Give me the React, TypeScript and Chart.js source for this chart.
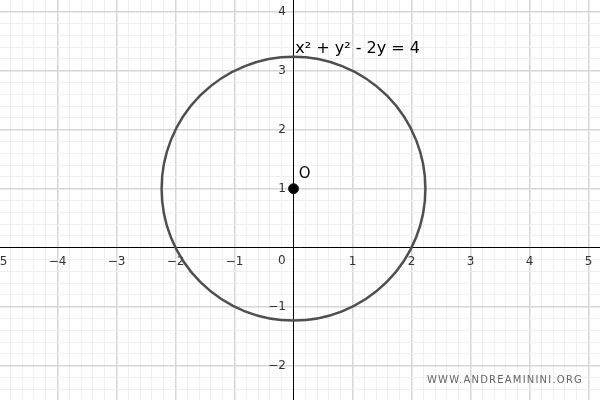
import { useEffect, useRef } from "react";
import { Chart, ChartConfiguration, Plugin, registerables } from "chart.js";
Chart.register(...registerables);

// visible window of the plane
const xMin = -4.975;
const xMax = 5.195;
const yMin = -2.581;
const yMax = 4.198;
// tick just off the left edge whose label is half visible
const xEdgeTick = -5;

// circle x² + y² - 2y = 4  ->  centre and radius
const center = { x: 0, y: 1 };
const radius = 2.236;

const equationText = "x² + y² - 2y = 4";
const equationPos = { x: 0.03, y: 3.3 };
const pointName = "O";
const pointNamePos = { x: 0.09, y: 1.18 };
const watermark = "WWW.ANDREAMININI.ORG";

const FONT = "'DejaVu Sans', sans-serif";

const isInt = (v: number) => Math.abs(v - Math.round(v)) < 1e-6;
const fmt = (v: number) => (v < 0 ? "\u2212" + Math.abs(v) : String(v));

const gridColor = (v: number) =>
  Math.abs(v) < 1e-6 ? "rgba(0,0,0,0)" : isInt(v) ? "#d6d6d6" : "#efefef";
const gridWidth = (v: number) => (isInt(v) ? 1.5 : 1);

// axes sit inside the plot, so they must not push the chart area in
const noPadding = (scale: any) => {
  scale.paddingTop = 0;
  scale.paddingBottom = 0;
  scale.paddingLeft = 0;
  scale.paddingRight = 0;
};

const labelsPlugin: Plugin = {
  id: "labels",
  afterDatasetsDraw(chart) {
    const { ctx, chartArea } = chart;
    const xs = chart.scales.x;
    const ys = chart.scales.y;
    ctx.save();
    ctx.fillStyle = "#000";
    ctx.textAlign = "left";
    ctx.textBaseline = "alphabetic";
    ctx.font = `16px ${FONT}`;
    ctx.fillText(
      equationText,
      xs.getPixelForValue(equationPos.x),
      ys.getPixelForValue(equationPos.y)
    );
    ctx.font = `15px ${FONT}`;
    ctx.fillText(
      pointName,
      xs.getPixelForValue(pointNamePos.x),
      ys.getPixelForValue(pointNamePos.y)
    );
    // origin label sits left of the y axis
    ctx.font = `12px ${FONT}`;
    ctx.fillStyle = "#333";
    ctx.textAlign = "center";
    ctx.textBaseline = "middle";
    ctx.fillText("0", xs.getPixelForValue(-0.2), ys.getPixelForValue(0) + 13);
    // watermark
    ctx.font = `10px ${FONT}`;
    ctx.fillStyle = "#666";
    ctx.textAlign = "right";
    ctx.textBaseline = "alphabetic";
    (ctx as any).letterSpacing = "1.2px";
    ctx.fillText(watermark, chartArea.right - 17, chartArea.bottom - 17);
    ctx.restore();
  },
};

const App = () => {
  const ref = useRef<HTMLCanvasElement>(null);

  useEffect(() => {
    document.body.style.margin = "0";
    const config: ChartConfiguration = {
      type: "scatter",
      data: {
        datasets: [
          {
            label: "circle",
            data: [center],
            backgroundColor: "rgba(0,0,0,0)",
            borderColor: "#4f4f4f",
            borderWidth: 2.5,
            pointRadius: (c: any) => {
              const xs = c.chart.scales.x;
              return xs.getPixelForValue(center.x + radius) - xs.getPixelForValue(center.x);
            },
          },
          {
            label: "O",
            data: [center],
            backgroundColor: "#000",
            borderColor: "#222",
            borderWidth: 1,
            pointRadius: 5,
          },
        ],
      },
      options: {
        animation: false,
        responsive: false,
        events: [],
        layout: { padding: 0, autoPadding: false },
        plugins: {
          legend: { display: false },
          tooltip: { enabled: false },
        },
        scales: {
          x: {
            type: "linear",
            position: { y: 0 } as any,
            min: xMin,
            max: xMax,
            afterFit: noPadding,
            afterBuildTicks: (scale: any) => {
              scale.ticks.unshift({ value: xEdgeTick });
            },
            border: { color: "#000", width: 1 },
            grid: {
              drawTicks: false,
              color: (c: any) => gridColor(c.tick ? c.tick.value : 1),
              lineWidth: (c: any) => gridWidth(c.tick ? c.tick.value : 1),
            },
            ticks: {
              stepSize: 0.2,
              includeBounds: false,
              autoSkip: false,
              maxRotation: 0,
              padding: 7,
              color: "#333",
              font: { family: FONT, size: 12 },
              callback: (v: any) => (isInt(v) && Math.abs(v) > 1e-6 ? fmt(Math.round(v)) : ""),
            },
          },
          y: {
            type: "linear",
            position: { x: 0 } as any,
            min: yMin,
            max: yMax,
            afterFit: noPadding,
            border: { color: "#000", width: 1 },
            grid: {
              drawTicks: false,
              color: (c: any) => gridColor(c.tick ? c.tick.value : 1),
              lineWidth: (c: any) => gridWidth(c.tick ? c.tick.value : 1),
            },
            ticks: {
              stepSize: 0.2,
              includeBounds: false,
              autoSkip: false,
              padding: 0,
              color: "#333",
              font: { family: FONT, size: 12 },
              callback: (v: any) => (isInt(v) && Math.abs(v) > 1e-6 ? fmt(Math.round(v)) + "  " : ""),
            },
          },
        },
      },
      plugins: [labelsPlugin],
    };
    const chart = new Chart(ref.current!, config);
    return () => {
      chart.destroy();
    };
  }, []);

  return (
    <div style={{ width: 600, height: 400, background: "#fff" }}>
      <canvas ref={ref} width={600} height={400}></canvas>
    </div>
  );
};
export default App;
